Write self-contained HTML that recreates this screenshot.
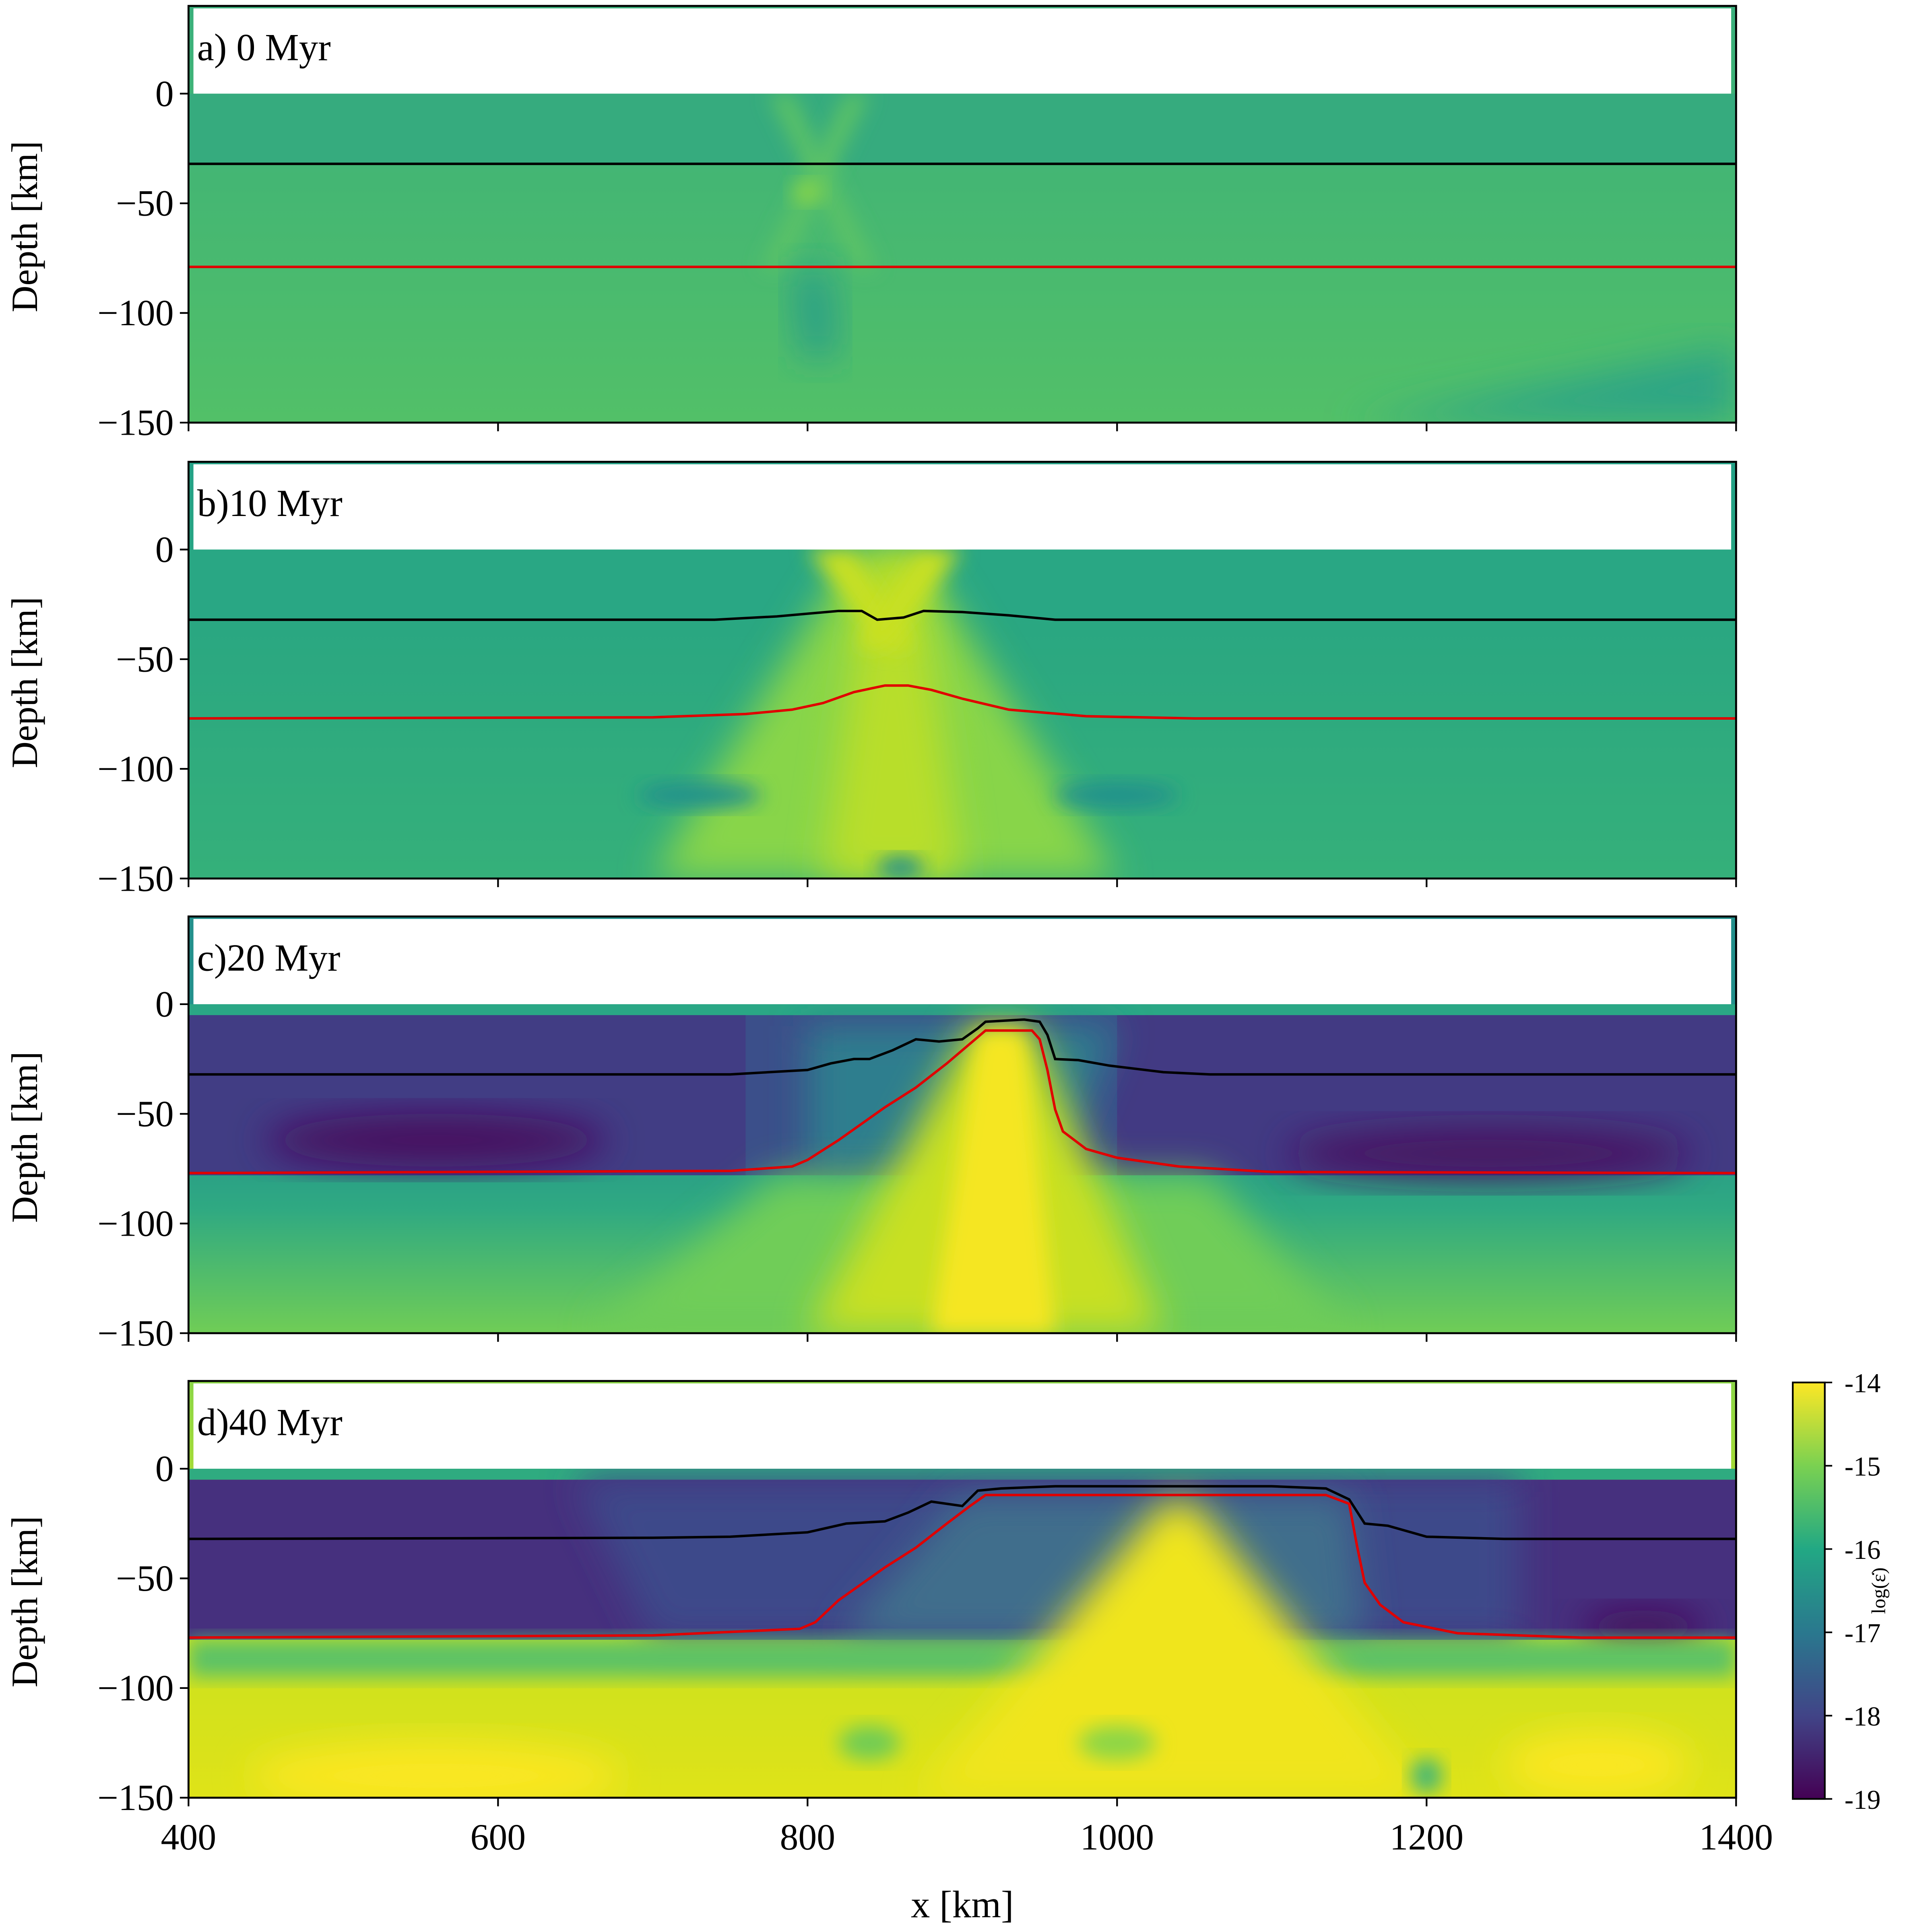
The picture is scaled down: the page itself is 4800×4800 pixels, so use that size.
<!DOCTYPE html>
<html><head><meta charset="utf-8"><style>html,body{margin:0;padding:0;background:#fff}svg{display:block}text{font-family:"Liberation Serif",serif;fill:#000}</style></head>
<body>
<svg id="chart" width="4800" height="4800" viewBox="0 0 1568 1568" xmlns="http://www.w3.org/2000/svg">
<defs>
<filter id="b8" x="-30%" y="-30%" width="160%" height="160%"><feGaussianBlur stdDeviation="8"/></filter>
<filter id="b15" x="-30%" y="-30%" width="160%" height="160%"><feGaussianBlur stdDeviation="15"/></filter>
<linearGradient id="cb" x1="0" y1="1" x2="0" y2="0">
<stop offset="0" stop-color="#440154"/><stop offset="0.2" stop-color="#414487"/><stop offset="0.4" stop-color="#2a788e"/><stop offset="0.6" stop-color="#22a884"/><stop offset="0.8" stop-color="#7ad151"/><stop offset="1" stop-color="#fde725"/></linearGradient>
<linearGradient id="ga" x1="0" y1="0" x2="0" y2="1"><stop offset="0" stop-color="#3aaf7b"/><stop offset="1" stop-color="#52c068"/></linearGradient>
<linearGradient id="gb" x1="0" y1="0" x2="0" y2="1"><stop offset="0" stop-color="#23a186"/><stop offset="1" stop-color="#35b07a"/></linearGradient>
<linearGradient id="gc" x1="0" y1="0" x2="0" y2="1"><stop offset="0" stop-color="#23908c"/><stop offset="0.45" stop-color="#23908c"/><stop offset="0.7" stop-color="#2fa982"/><stop offset="1" stop-color="#70cd56"/></linearGradient>
<linearGradient id="gd" x1="0" y1="0" x2="0" y2="1"><stop offset="0" stop-color="#8bd646"/><stop offset="0.5" stop-color="#c5e021"/><stop offset="1" stop-color="#dfe318"/></linearGradient>
</defs>
<g id="root"></g>
</svg>
<script>
// ----- data -----
const xTicks=[400,600,800,1000,1200,1400];
const yTicks=[0,-50,-100,-150];
const panelTitles=["a) 0 Myr","b)10 Myr","c)20 Myr","d)40 Myr"];
const cbTicks=[-14,-15,-16,-17,-18,-19];
const mohoX_a=[400,1400], mohoD_a=[-32,-32];
const lithX_a=[400,1400], lithD_a=[-79,-79];
const mohoX_b=[400,740,780,820,835,845,862,875,900,930,960,1400];
const mohoD_b=[-32,-32,-30.5,-28,-28,-32,-31,-28,-28.5,-30,-32,-32];
const lithX_b=[400,700,760,790,810,830,850,865,880,900,930,980,1050,1400];
const lithD_b=[-77,-76.5,-75,-73,-70,-65,-62,-62,-64,-68,-73,-76,-77,-77];
const mohoX_c=[400,750,800,815,830,840,855,870,885,900,910,915,940,950,955,960,975,995,1030,1060,1400];
const mohoD_c=[-32,-32,-30,-27,-25,-25,-21,-16,-17,-16,-11,-8,-7,-8,-14,-25,-25.5,-28,-31,-32,-32];
const lithX_c=[400,750,790,800,820,850,870,890,905,915,945,950,955,960,965,980,1000,1040,1100,1400];
const lithD_c=[-77,-76,-74,-71,-62,-47,-38,-27,-18,-12,-12,-16,-30,-48,-58,-66,-70,-74,-76.5,-77];
const mohoX_d=[400,700,750,800,825,850,865,880,900,910,925,960,1100,1135,1150,1160,1175,1200,1250,1400];
const mohoD_d=[-32,-31.5,-31,-29,-25,-24,-20,-15,-17,-10,-9,-8,-8,-9,-14,-25,-26,-31,-32,-32];
const lithX_d=[400,700,795,805,820,850,870,890,905,915,1135,1150,1155,1160,1170,1185,1220,1300,1400];
const lithD_d=[-77,-76,-73,-70,-60,-45,-36,-25,-17,-12,-12,-16,-35,-52,-62,-70,-75,-77,-77];
// ----- layout -----
const X0=153,X1=1409;
const zero=[76,446,815,1192];
const kmPx=267/150;
const xs=v=>X0+(v-400)*(X1-X0)/1000;
const ysF=p=>d=>zero[p]-d*kmPx;
const NS="http://www.w3.org/2000/svg";
const root=document.getElementById('root');
function mk(tag,attrs,parent){const e=document.createElementNS(NS,tag);for(const k in attrs)e.setAttribute(k,attrs[k]);(parent||root).appendChild(e);return e;}
function poly(p,pts,fill,filt,par){const ys=ysF(p);const e=mk('polygon',{points:pts.map(q=>xs(q[0])+','+ys(q[1])).join(' '),fill:fill},par);if(filt)e.setAttribute('filter','url(#'+filt+')');return e;}
function rectD(p,x0,x1,d0,d1,fill,filt,par){const ys=ysF(p);const e=mk('rect',{x:xs(x0),y:ys(d0),width:xs(x1)-xs(x0),height:ys(d1)-ys(d0),fill:fill},par);if(filt)e.setAttribute('filter','url(#'+filt+')');return e;}
function ell(p,cx,cy,rx,ry,fill,filt,par){const ys=ysF(p);const e=mk('ellipse',{cx:xs(cx),cy:ys(cy),rx:rx*1.256,ry:ry*kmPx,fill:fill},par);if(filt)e.setAttribute('filter','url(#'+filt+')');return e;}

const mohos=[[mohoX_a,mohoD_a],[mohoX_b,mohoD_b],[mohoX_c,mohoD_c],[mohoX_d,mohoD_d]];
const liths=[[lithX_a,lithD_a],[lithX_b,lithD_b],[lithX_c,lithD_c],[lithX_d,lithD_d]];
const bgs=['url(#ga)','url(#gb)','url(#gc)','url(#gd)'];

for(let p=0;p<4;p++){
  const ys=ysF(p);
  const top=ys(40), bot=ys(-150);
  const panel=mk('g',{});
  
  
  const cp=mk('clipPath',{id:'clip'+p});
  mk('rect',{x:X0,y:top,width:X1-X0,height:bot-top},cp);
  const hm=mk('g',{'clip-path':'url(#clip'+p+')'},panel);
  
  
  mk('rect',{x:X0,y:top,width:X1-X0,height:bot-top,fill:bgs[p]},hm);
  if(p===0){
    rectD(0,400,1400,0,-32,'#36ab7e',null,hm);
    poly(0,[[775,0],[790,0],[845,-80],[830,-80]],'#5cc266','b8',hm);
    poly(0,[[825,0],[840,0],[785,-80],[770,-80]],'#5cc266','b8',hm);
    ell(0,800,-45,10,5,'#8ad646','b8',hm);
    poly(0,[[790,-80],[815,-80],[820,-120],[795,-120]],'#2c9f87','b15',hm);
    poly(0,[[1150,-150],[1400,-115],[1400,-150]],'#2ea585','b15',hm);
  }
  if(p===1){
    rectD(1,400,1400,0,-32,'#29a784',null,hm);
    poly(1,[[830,0],[870,0],[1000,-150],[700,-150]],'#88d548','b15',hm);
    poly(1,[[840,0],[870,0],[900,-150],[810,-150]],'#b8de29','b15',hm);
    poly(1,[[800,0],[830,0],[870,-45],[850,-45]],'#c8e020','b8',hm);
    poly(1,[[870,0],[900,0],[850,-45],[830,-45]],'#c8e020','b8',hm);
    ell(1,730,-112,40,6,'#20918c','b8',hm);
    ell(1,1000,-112,40,6,'#20918c','b8',hm);
    ell(1,860,-145,15,5,'#208f8c','b8',hm);
  }
  if(p===2){
    rectD(2,400,1400,0,-5,'#2aa785',null,hm);
    rectD(2,400,1400,-5,-78,'#3b4f8a',null,hm);
    rectD(2,400,760,-5,-78,'#413d84',null,hm);
    rectD(2,1000,1400,-5,-78,'#423a83',null,hm);
    ell(2,560,-62,110,12,'#46105f','b15',hm);
    ell(2,1240,-68,130,12,'#461362','b15',hm);
    poly(2,[[800,-10],[1000,-10],[960,-78],[800,-78]],'#2d7e8e','b15',hm);
    poly(2,[[780,-78],[1060,-78],[1150,-150],[660,-150]],'#6fcd58','b15',hm);
    poly(2,[[905,-10],[945,-10],[1030,-150],[800,-150]],'#c8e020','b15',hm);
    poly(2,[[910,-12],[940,-12],[960,-150],[880,-150]],'#f5e620','b8',hm);
  }
  if(p===3){
    rectD(3,400,1400,0,-5,'#2fab80',null,hm);
    rectD(3,400,1400,-5,-78,'#46307e',null,hm);
    poly(3,[[650,-5],[1260,-5],[1260,-78],[700,-78]],'#3d4a8a','b15',hm);
    ell(3,1340,-72,40,8,'#440c5a','b15',hm);
    poly(3,[[900,-12],[1150,-12],[1160,-78],[820,-78]],'#3f6e8c','b15',hm);
    rectD(3,400,1400,-78,-95,'#5cc266','b8',hm);
    poly(3,[[1030,-15],[1050,-15],[1200,-150],[870,-150]],'#f0e51c','b15',hm);
    ell(3,560,-140,120,15,'#fbe723','b15',hm);
    ell(3,1310,-135,60,15,'#fbe723','b15',hm);
    ell(3,840,-125,20,8,'#6fcc55','b8',hm);
    ell(3,1000,-125,25,8,'#8bd646','b8',hm);
    ell(3,1200,-140,10,8,'#3cb57a','b8',hm);
  }
  const air=mk('rect',{x:X0+4,y:top+2,width:X1-X0-8,height:ys(0)-top-2,fill:'#ffffff'},hm);
  
  
  const [mx,md]=mohos[p],[lx,ld]=liths[p];
  const moho=mk('polyline',{points:mx.map((v,i)=>xs(v)+','+ys(md[i])).join(' '),fill:'none',stroke:'#000',"stroke-width":2},hm);
  
  
  const lab=mk('polyline',{points:lx.map((v,i)=>xs(v)+','+ys(ld[i])).join(' '),fill:'none',stroke:'#e00000',"stroke-width":2},hm);
  
  
  mk('rect',{x:X0,y:top,width:X1-X0,height:bot-top,fill:'none',stroke:'#000','stroke-width':1.6},panel);
  yTicks.forEach(t=>{
    mk('line',{x1:X0-7,x2:X0,y1:ys(t),y2:ys(t),stroke:'#000','stroke-width':1.4},panel);
    const tx=mk('text',{x:X0-12,y:ys(t)+10,'text-anchor':'end','font-size':30},panel);
    tx.textContent=t<0?'\u2212'+(-t):String(t);
    
    
  });
  xTicks.forEach(t=>{
    mk('line',{x1:xs(t),x2:xs(t),y1:bot,y2:bot+7,stroke:'#000','stroke-width':1.4},panel);
    if(p===3){const tx=mk('text',{x:xs(t),y:bot+42,'text-anchor':'middle','font-size':30},panel);tx.textContent=t;
    
    }
  });
  const yl=mk('text',{x:30,y:(top+bot)/2+10,'text-anchor':'middle','font-size':30,transform:'rotate(-90 30 '+((top+bot)/2+10)+')'},panel);
  yl.textContent='Depth [km]';
  
  
  const tt=mk('text',{x:160,y:top+44,'font-size':31},panel);
  tt.textContent=panelTitles[p];
  
  
}
const xl=mk('text',{x:781,y:1556,'text-anchor':'middle','font-size':31});
xl.textContent='x [km]';


const cb=mk('g',{});


const cbT=1122,cbB=1460,cbL=1455,cbW=26;
mk('rect',{x:cbL,y:cbT,width:cbW,height:cbB-cbT,fill:'url(#cb)',stroke:'#000','stroke-width':1.4},cb);
cbTicks.forEach(v=>{
  const y=cbT+(-14-v)/5*(cbB-cbT);
  mk('line',{x1:cbL+cbW,x2:cbL+cbW+6,y1:y,y2:y,stroke:'#000','stroke-width':1.3},cb);
  const tx=mk('text',{x:cbL+cbW+16,y:y+8,'font-size':22},cb);
  tx.textContent=String(v);
  
  
});
const cl=mk('text',{x:1530,y:1291,'text-anchor':'middle','font-size':16,transform:'rotate(-90 1530 1291)'},cb);
cl.textContent='log(\u03B5\u0307)';


</script>
</body></html>
